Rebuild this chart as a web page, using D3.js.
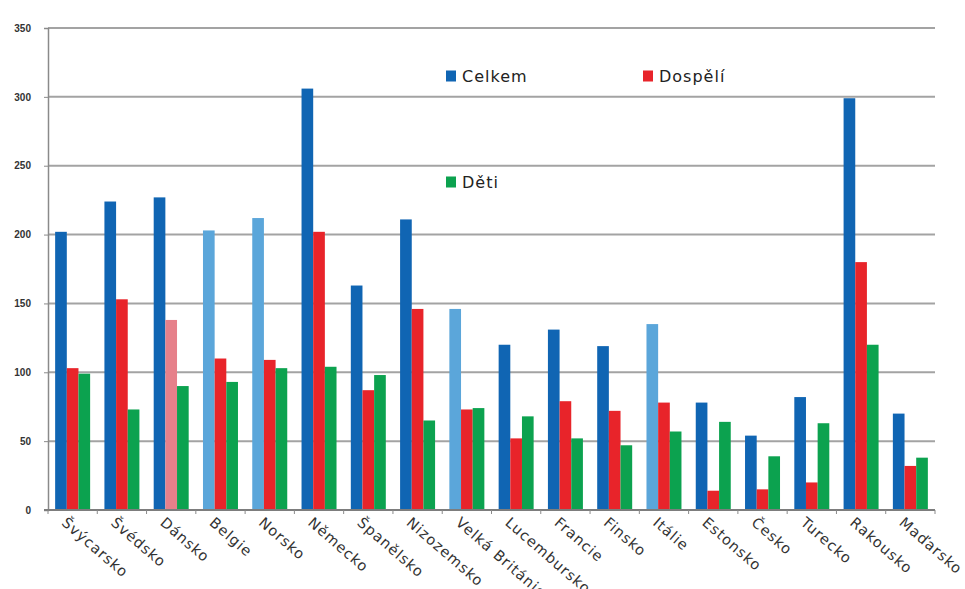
<!DOCTYPE html>
<html lang="cs">
<head>
<meta charset="utf-8">
<script src="https://cdn.jsdelivr.net/npm/d3@7"></script>
<style>
  html, body { margin: 0; padding: 0; background: #fff; }
  svg { display: block; }
</style>
</head>
<body>
<div id="chart"></div>
<script>
const countries = ["Švýcarsko", "Švédsko", "Dánsko", "Belgie", "Norsko", "Německo", "Španělsko", "Nizozemsko",
    "Velká Británie", "Lucembursko", "Francie", "Finsko", "Itálie", "Estonsko", "Česko", "Turecko", "Rakousko", "Maďarsko"];
const celkem  = [202, 224, 227, 203, 212, 306, 163, 211, 146, 120, 131, 119, 135, 78, 54, 82, 299, 70];
const dospeli = [103, 153, 138, 110, 109, 202, 87, 146, 73, 52, 79, 72, 78, 14, 15, 20, 180, 32];
const deti    = [99, 73, 90, 93, 103, 104, 98, 65, 74, 68, 52, 47, 57, 64, 39, 63, 120, 38];
const seriesNames = ["Celkem", "Dospělí", "Děti"];
const yTicks = [0, 50, 100, 150, 200, 250, 300, 350];
// bars drawn in a lighter tone in the original
const lightCelkem = ["Belgie", "Norsko", "Velká Británie", "Itálie"];
const lightDospeli = ["Dánsko"];

(() => {
    const width = 965, height = 589;
    const margin = { top: 28, right: 30, bottom: 79, left: 48 };
    const colors = { "Celkem": "#1065b3", "Dospělí": "#e8242a", "Děti": "#0ca24f" };
    const lightColors = { "Celkem": "#5ba6da", "Dospělí": "#e6808a" };

    const svg = d3.select("#chart").append("svg")
        .attr("width", width)
        .attr("height", height);

    const x = d3.scaleBand()
        .domain(countries)
        .range([margin.left, width - margin.right])
        .paddingInner(0.29)
        .paddingOuter(0.145);

    const x1 = d3.scaleBand()
        .domain(seriesNames)
        .range([0, x.bandwidth()]);

    const y = d3.scaleLinear()
        .domain([0, 350])
        .range([height - margin.bottom, margin.top]);

    // gridlines
    svg.append("g")
        .selectAll("line")
        .data(yTicks.filter(t => t > 0))
        .join("line")
        .attr("x1", margin.left)
        .attr("x2", width - margin.right)
        .attr("y1", d => y(d))
        .attr("y2", d => y(d))
        .attr("stroke", "#a3a3a3")
        .attr("stroke-width", 2);

    // y axis
    const yAxis = svg.append("g")
        .attr("transform", `translate(${margin.left},0)`)
        .call(d3.axisLeft(y).tickValues(yTicks).tickSize(4).tickPadding(13));
    yAxis.select(".domain").attr("stroke", "#8a8a8a").attr("stroke-width", 1.5);
    yAxis.selectAll(".tick line").attr("stroke", "#8a8a8a");
    yAxis.selectAll("text")
        .attr("fill", "#333")
        .style("font-family", "'Liberation Sans', Arial, sans-serif")
        .style("font-weight", "bold")
        .style("font-size", "10px");

    // bars
    const rows = countries.map((c, i) => ({
        country: c,
        values: [
            { key: "Celkem", value: celkem[i], light: lightCelkem.includes(c) },
            { key: "Dospělí", value: dospeli[i], light: lightDospeli.includes(c) },
            { key: "Děti", value: deti[i], light: false }
        ]
    }));

    svg.append("g")
        .selectAll("g")
        .data(rows)
        .join("g")
        .attr("transform", d => `translate(${x(d.country)},0)`)
        .selectAll("rect")
        .data(d => d.values)
        .join("rect")
        .attr("x", d => x1(d.key))
        .attr("width", x1.bandwidth())
        .attr("y", d => y(d.value))
        .attr("height", d => y(0) - y(d.value))
        .attr("fill", d => d.light ? lightColors[d.key] : colors[d.key]);

    // x axis: ticks at band boundaries
    const step = x.step();
    const axisY = y(0);
    const xAxis = svg.append("g");
    xAxis.append("line")
        .attr("x1", margin.left - 4)
        .attr("x2", width - margin.right)
        .attr("y1", axisY)
        .attr("y2", axisY)
        .attr("stroke", "#7d7d7d")
        .attr("stroke-width", 2);
    xAxis.selectAll(".bt")
        .data(d3.range(countries.length + 1))
        .join("line")
        .attr("class", "bt")
        .attr("x1", i => margin.left + i * step)
        .attr("x2", i => margin.left + i * step)
        .attr("y1", axisY)
        .attr("y2", axisY + 4)
        .attr("stroke", "#8a8a8a");

    xAxis.selectAll("text")
        .data(countries)
        .join("text")
        .attr("transform", d => `translate(${x(d) + x.bandwidth() / 2 - 12},${axisY + 14}) rotate(41)`)
        .attr("text-anchor", "start")
        .attr("fill", "#333")
        .style("font-family", "'DejaVu Sans', sans-serif")
        .style("font-size", "14.5px")
        .style("letter-spacing", "1px")
        .text(d => d);

    // legend
    const legendPos = [
        { name: "Celkem", x: 446, y: 76 },
        { name: "Dospělí", x: 643, y: 76 },
        { name: "Děti", x: 446, y: 182 }
    ];
    const legend = svg.append("g")
        .selectAll("g")
        .data(legendPos)
        .join("g")
        .attr("transform", d => `translate(${d.x},${d.y})`);
    legend.append("rect")
        .attr("x", 0)
        .attr("y", -5.5)
        .attr("width", 10)
        .attr("height", 11)
        .attr("fill", d => colors[d.name]);
    legend.append("text")
        .attr("x", 16)
        .attr("y", 6)
        .attr("fill", "#222")
        .style("font-family", "'DejaVu Sans', sans-serif")
        .style("font-size", "16px")
        .style("letter-spacing", "1px")
        .text(d => d.name);
})();
</script>
</body>
</html>
